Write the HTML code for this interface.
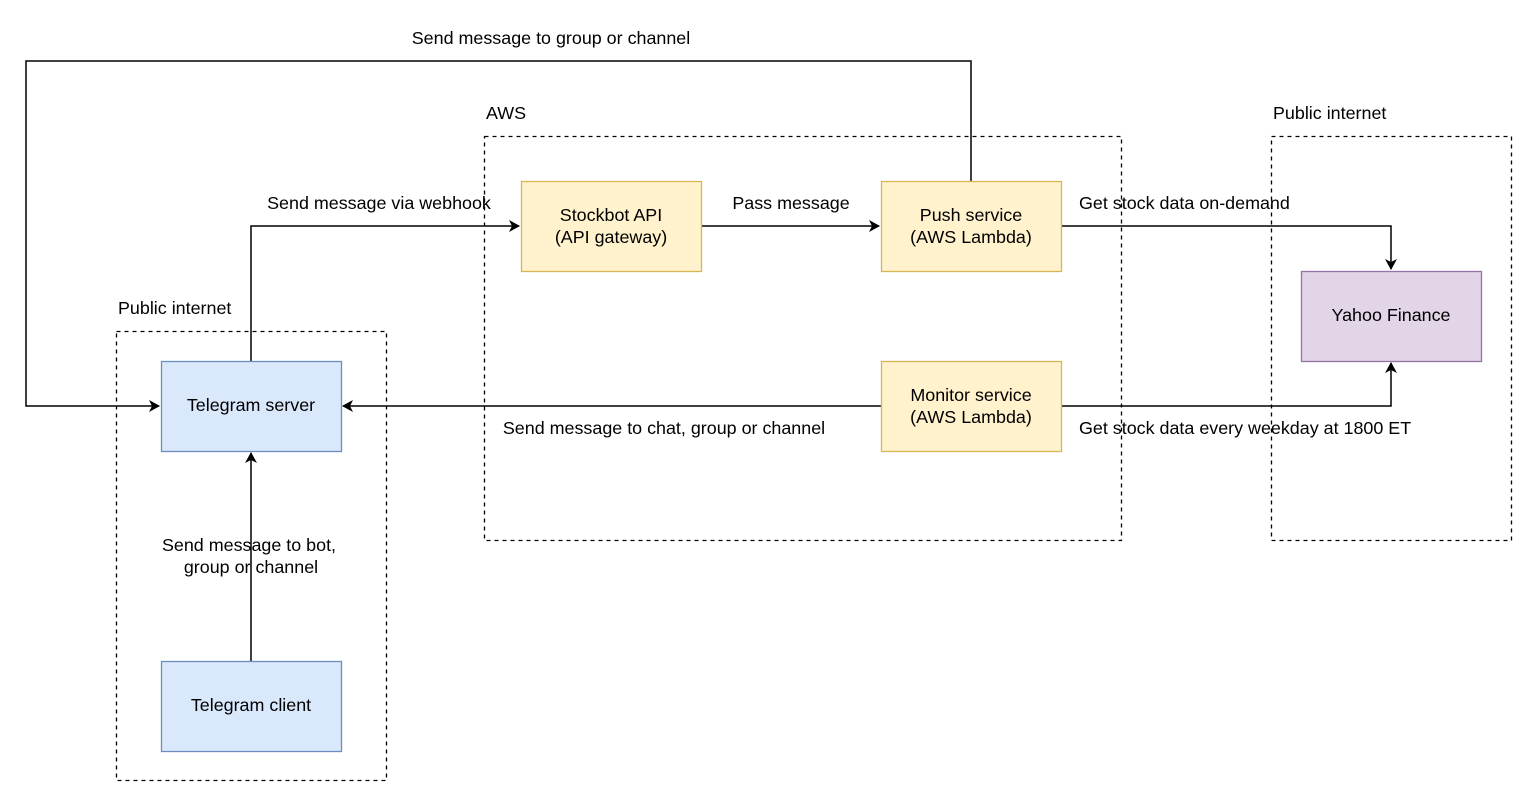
<!DOCTYPE html>
<html><head><meta charset="utf-8"><style>
html,body{margin:0;padding:0;background:#fff;}
svg{display:block;}
text{font-family:"Liberation Sans",Arial,sans-serif;font-size:17.9px;fill:#000;}
</style></head><body>
<svg width="1527" height="797" viewBox="0 0 1527 797" xmlns="http://www.w3.org/2000/svg">
<defs>
<marker id="a" markerWidth="12" markerHeight="12" refX="10" refY="6" orient="auto" markerUnits="userSpaceOnUse">
<path d="M0,0 L11,6 L0,12 L3,6 Z" fill="#000"/>
</marker>
</defs>
<rect x="116.5" y="331.5" width="270" height="449" fill="none" stroke="#000" stroke-width="1.3" stroke-dasharray="4,4"/>
<rect x="484.5" y="136.5" width="637" height="404" fill="none" stroke="#000" stroke-width="1.3" stroke-dasharray="4,4"/>
<rect x="1271.5" y="136.5" width="240" height="404" fill="none" stroke="#000" stroke-width="1.3" stroke-dasharray="4,4"/>
<text x="118" y="314">Public internet</text>
<text x="486" y="119">AWS</text>
<text x="1273" y="119">Public internet</text>

<g fill="none" stroke="#000" stroke-width="1.5">
<path d="M971,181 V61 H26 V406 H159" marker-end="url(#a)"/>
<path d="M251,361 V226 H519" marker-end="url(#a)"/>
<path d="M701,226 H879" marker-end="url(#a)"/>
<path d="M1061,226 H1391 V269" marker-end="url(#a)"/>
<path d="M881,406 H343" marker-end="url(#a)"/>
<path d="M1061,406 H1391 V363" marker-end="url(#a)"/>
<path d="M251,661 V453" marker-end="url(#a)"/>
</g>

<rect x="161.5" y="361.5" width="180" height="90" fill="#dae8fc" stroke="#6c8ebf" stroke-width="1.3"/>
<rect x="161.5" y="661.5" width="180" height="90" fill="#dae8fc" stroke="#6c8ebf" stroke-width="1.3"/>
<rect x="521.5" y="181.5" width="180" height="90" fill="#fff2cc" stroke="#d6b656" stroke-width="1.3"/>
<rect x="881.5" y="181.5" width="180" height="90" fill="#fff2cc" stroke="#d6b656" stroke-width="1.3"/>
<rect x="881.5" y="361.5" width="180" height="90" fill="#fff2cc" stroke="#d6b656" stroke-width="1.3"/>
<rect x="1301.5" y="271.5" width="180" height="90" fill="#e1d5e7" stroke="#9673a6" stroke-width="1.3"/>

<g text-anchor="middle">
<text x="251" y="411">Telegram server</text>
<text x="251" y="711">Telegram client</text>
<text x="611" y="221">Stockbot API</text>
<text x="611" y="243">(API gateway)</text>
<text x="971" y="221">Push service</text>
<text x="971" y="243">(AWS Lambda)</text>
<text x="971" y="401">Monitor service</text>
<text x="971" y="423">(AWS Lambda)</text>
<text x="1391" y="321">Yahoo Finance</text>
<text x="551" y="44">Send message to group or channel</text>
<text x="379" y="209">Send message via webhook</text>
<text x="791" y="209">Pass message</text>
<text x="664" y="434">Send message to chat, group or channel</text>
<text x="249" y="551">Send message to bot,</text>
<text x="251" y="573">group or channel</text>
</g>
<text x="1079" y="209">Get stock data on-demand</text>
<text x="1079" y="434">Get stock data every weekday at 1800 ET</text>
</svg>
</body></html>
